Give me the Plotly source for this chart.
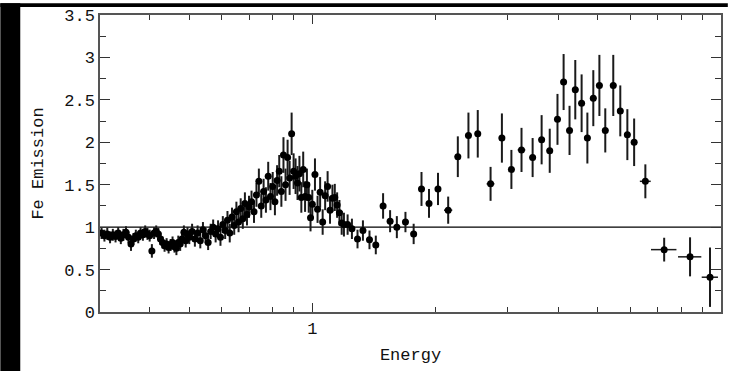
import plotly.graph_objects as go

# Finely binned low-energy part of the Fe emission ratio
energy_lo = [
    0.305, 0.310, 0.315, 0.320, 0.325, 0.330, 0.335, 0.340, 0.345, 0.350,
    0.355, 0.360, 0.365, 0.370, 0.375, 0.380, 0.385, 0.390, 0.395, 0.400,
    0.405, 0.410, 0.415, 0.420, 0.425, 0.430, 0.435, 0.440, 0.445, 0.450,
    0.455, 0.460, 0.465, 0.470, 0.475, 0.480, 0.485, 0.490, 0.495, 0.500,
    0.508, 0.516, 0.524, 0.532, 0.540, 0.548, 0.556, 0.564, 0.572, 0.580,
    0.588, 0.596, 0.604, 0.612, 0.620, 0.628, 0.636, 0.644, 0.652, 0.660,
    0.668, 0.676, 0.684, 0.692, 0.700,
    0.71, 0.72, 0.73, 0.74, 0.75, 0.76, 0.77, 0.78, 0.79, 0.80,
    0.81, 0.82, 0.83, 0.84, 0.85, 0.86, 0.87, 0.88, 0.89, 0.90,
    0.91, 0.92, 0.93, 0.94, 0.95, 0.96, 0.97, 0.98, 0.99, 1.00,
    1.015, 1.030, 1.045, 1.060, 1.075, 1.090, 1.105, 1.120, 1.135, 1.150,
    1.165, 1.180, 1.195,
    1.22, 1.25, 1.29, 1.33, 1.38, 1.43,
]
ratio_lo = [
    0.93, 0.90, 0.92, 0.88, 0.91, 0.89, 0.93, 0.87, 0.91, 0.94,
    0.88, 0.80, 0.86, 0.90, 0.88, 0.93, 0.91, 0.95, 0.92, 0.90,
    0.72, 0.93, 0.95, 0.92, 0.86, 0.82, 0.78, 0.80, 0.76, 0.79,
    0.82, 0.77, 0.75, 0.82, 0.80, 0.86, 0.94, 0.84, 0.92, 0.88,
    0.95, 0.86, 0.93, 0.84, 0.97, 0.90, 0.82, 0.95, 1.00, 0.92,
    0.98, 0.88, 1.03, 0.96, 1.08, 0.93, 1.12, 1.02, 1.18, 1.06,
    1.22, 1.10, 1.28, 1.15, 1.24,
    1.30, 1.18, 1.38, 1.54, 1.25, 1.42, 1.32, 1.60, 1.36, 1.48,
    1.30, 1.55, 1.66, 1.42, 1.85, 1.50, 1.82, 1.58, 2.10, 1.66,
    1.60, 1.52, 1.63, 1.35, 1.68, 1.36, 1.50, 1.35, 1.11, 1.27,
    1.62, 1.21, 1.41, 1.06, 1.37, 1.48, 1.20, 1.34, 1.35, 1.26,
    1.17, 1.05, 1.03,
    1.03, 0.98, 0.86, 0.96, 0.85, 0.79,
]
err_lo = [
    0.07, 0.07, 0.07, 0.07, 0.07, 0.07, 0.07, 0.07, 0.07, 0.07,
    0.07, 0.08, 0.07, 0.07, 0.07, 0.07, 0.07, 0.07, 0.07, 0.07,
    0.08, 0.07, 0.07, 0.07, 0.07, 0.07, 0.07, 0.07, 0.07, 0.07,
    0.07, 0.07, 0.08, 0.08, 0.08, 0.08, 0.08, 0.08, 0.08, 0.08,
    0.09, 0.09, 0.09, 0.09, 0.09, 0.09, 0.09, 0.09, 0.09, 0.10,
    0.10, 0.10, 0.10, 0.10, 0.11, 0.11, 0.11, 0.11, 0.12, 0.12,
    0.12, 0.12, 0.13, 0.13, 0.13,
    0.13, 0.13, 0.14, 0.15, 0.14, 0.15, 0.15, 0.17, 0.16, 0.17,
    0.16, 0.18, 0.19, 0.18, 0.21, 0.19, 0.21, 0.20, 0.25, 0.21,
    0.21, 0.20, 0.21, 0.18, 0.21, 0.18, 0.19, 0.18, 0.16, 0.17,
    0.19, 0.16, 0.18, 0.15, 0.17, 0.18, 0.16, 0.16, 0.16, 0.15,
    0.15, 0.14, 0.14,
    0.12, 0.12, 0.11, 0.12, 0.11, 0.11,
]

# Broad high-energy bins
energy_hi = [
    1.49, 1.55, 1.61, 1.69, 1.77, 1.85, 1.93, 2.03, 2.15, 2.27,
    2.41, 2.54, 2.73, 2.91, 3.07, 3.25, 3.46, 3.64, 3.81, 3.98,
    4.12, 4.26, 4.40, 4.56, 4.71, 4.87, 5.04, 5.21, 5.45, 5.67,
    5.90, 6.13, 6.53, 7.26, 8.40, 9.40,
]
ratio_hi = [
    1.25, 1.07, 1.00, 1.06, 0.92, 1.45, 1.28, 1.45, 1.20, 1.83,
    2.08, 2.10, 1.51, 2.05, 1.68, 1.91, 1.82, 2.03, 1.90, 2.27,
    2.71, 2.14, 2.62, 2.46, 2.05, 2.52, 2.67, 2.14, 2.67, 2.37,
    2.09, 2.00, 1.54, 0.735, 0.65, 0.41,
]
err_hi = [
    0.15, 0.13, 0.13, 0.12, 0.12, 0.20, 0.17, 0.19, 0.16, 0.24,
    0.27, 0.28, 0.20, 0.29, 0.23, 0.26, 0.23, 0.29, 0.26, 0.30,
    0.33, 0.29, 0.35, 0.34, 0.30, 0.33, 0.36, 0.26, 0.36, 0.30,
    0.30, 0.28, 0.20, 0.14, 0.23, 0.35,
]
halfwidth_hi = [
    0.025, 0.026, 0.027, 0.029, 0.030, 0.031, 0.033, 0.035, 0.050, 0.040,
    0.041, 0.043, 0.060, 0.050, 0.052, 0.070, 0.060, 0.062, 0.065, 0.068,
    0.070, 0.072, 0.075, 0.078, 0.080, 0.083, 0.086, 0.089, 0.093, 0.096,
    0.100, 0.104, 0.200, 0.520, 0.550, 0.430,
]

x_major = [1, 10]
x_major_text = ["1", "10"]
x_minor = [0.4, 0.5, 0.6, 0.7, 0.8, 0.9, 2, 3, 4, 5, 6, 7, 8, 9]

FONT = "Liberation Mono, DejaVu Sans Mono, monospace"
INK = "#111111"
FS = 17

fig = go.Figure()

fig.add_trace(go.Scatter(
    x=energy_lo, y=ratio_lo, mode="markers",
    marker=dict(color="black", size=7, symbol="circle"),
    error_y=dict(type="data", array=err_lo, color="#1a1a1a", thickness=2, width=0),
    showlegend=False,
))
fig.add_trace(go.Scatter(
    x=energy_hi, y=ratio_hi, mode="markers",
    marker=dict(color="black", size=7, symbol="circle"),
    error_y=dict(type="data", array=err_hi, color="#1a1a1a", thickness=2, width=0),
    error_x=dict(type="data", array=halfwidth_hi, color="#1a1a1a", thickness=1.5, width=0),
    showlegend=False,
))

# unity reference line
fig.add_shape(type="line", xref="paper", x0=0, x1=1, yref="y", y0=1, y1=1,
              line=dict(color="black", width=1.3), layer="below")

# dark strips along the left and top edges of the page (kept inside the figure bounds)
fig.add_shape(type="rect", xref="paper", yref="paper",
              x0=-0.1605, x1=-0.1284, y0=-0.199, y1=1.0399,
              fillcolor="black", line=dict(width=0))
fig.add_shape(type="rect", xref="paper", yref="paper",
              x0=-0.1605, x1=1.011, y0=1.0267, y1=1.0399,
              fillcolor="black", line=dict(width=0))

axis_common = dict(
    showline=True, linecolor="#555555", linewidth=1.5, mirror="ticks",
    ticks="inside", tickcolor="#333333", tickwidth=1.3,
    showgrid=False, zeroline=False,
    tickfont=dict(family=FONT, size=FS, color=INK),
)

fig.update_xaxes(
    type="log", range=[-0.5195, 1.0],
    tickmode="array", tickvals=x_major, ticktext=x_major_text, ticklen=9,
    minor=dict(tickmode="array", tickvals=x_minor, ticks="inside", ticklen=5,
               tickcolor="#333333", tickwidth=1.2, showgrid=False),
    title=dict(text="Energy", font=dict(family=FONT, size=FS, color=INK), standoff=10),
    **axis_common,
)
fig.update_yaxes(
    range=[0, 3.5], tickmode="linear", tick0=0, dtick=0.5, ticklen=10,
    minor=dict(dtick=0.25, ticks="inside", ticklen=6, tickcolor="#333333",
               tickwidth=1.2, showgrid=False),
    title=dict(text="Fe Emission", font=dict(family=FONT, size=FS, color=INK), standoff=16),
    **axis_common,
)

fig.update_layout(
    width=730, height=372,
    margin=dict(l=100, r=7, t=12, b=60),
    paper_bgcolor="white", plot_bgcolor="white",
    font=dict(family=FONT, color=INK),
)

fig.write_html("out.html")
